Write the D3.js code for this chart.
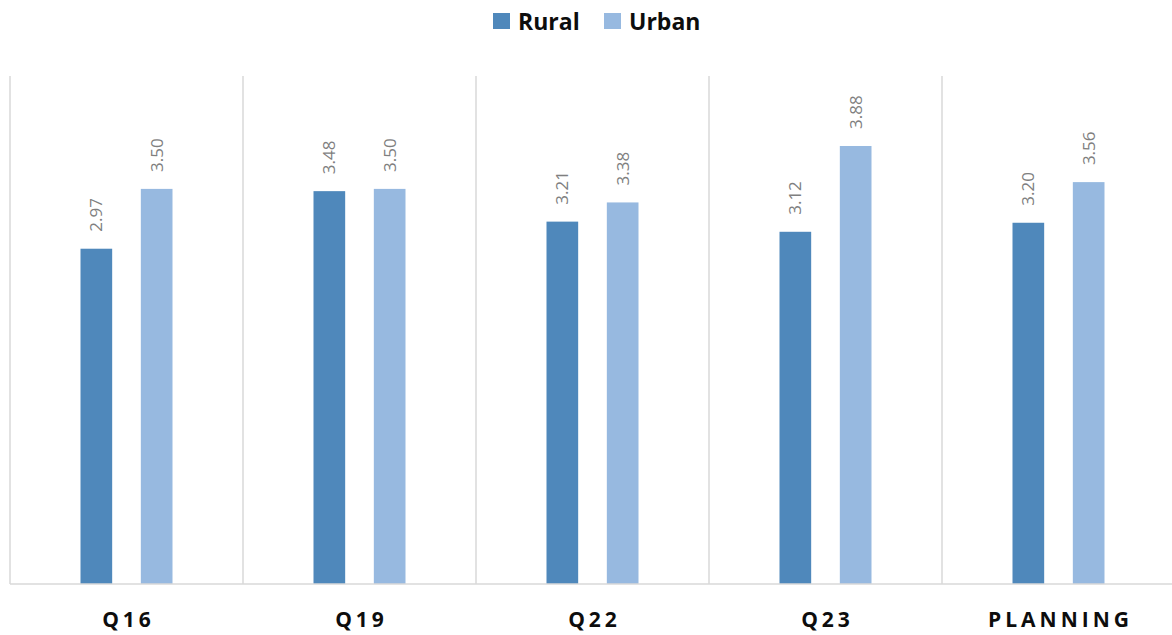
<!DOCTYPE html>
<html><head><meta charset="utf-8">
<script src="https://cdn.jsdelivr.net/npm/d3@7"></script>
<style>body{margin:0;background:#fff}svg{display:block}</style>
</head><body>
<svg id="c" width="1172" height="635"></svg>
<script>
const categories = ["Q16", "Q19", "Q22", "Q23", "PLANNING"];
const seriesNames = ["Rural", "Urban"];
const rural = [2.97, 3.48, 3.21, 3.12, 3.20];
const urban = [3.50, 3.50, 3.38, 3.88, 3.56];
const colors = ["#4f88bb", "#97b9e0"];

const svg = d3.select("#c");
const font = "'Open Sans', sans-serif";
const x0 = d3.scaleBand().domain(categories).range([10, 1175]).padding(0);
const x1 = d3.scaleBand().domain(seriesNames).range([70.5, 162.5]).paddingInner(0.475).paddingOuter(0);
const y = d3.scaleLinear().domain([0, 4.5]).range([584, 76]);

// vertical category separators
svg.append("g").selectAll("line").data(categories.concat(["_end"])).join("line")
  .attr("x1", (d,i)=> 10 + i*x0.step()).attr("x2", (d,i)=> 10 + i*x0.step())
  .attr("y1", y(4.5)).attr("y2", y(0))
  .attr("stroke", "#d9d9d9").attr("stroke-width", 1.5);

const data = categories.map((c,i)=>({cat:c, vals:[{s:"Rural", v:rural[i]},{s:"Urban", v:urban[i]}]}));
const g = svg.append("g").selectAll("g").data(data).join("g")
  .attr("transform", d=>`translate(${x0(d.cat)},0)`);
g.selectAll("rect").data(d=>d.vals).join("rect")
  .attr("x", d=>x1(d.s)).attr("width", x1.bandwidth())
  .attr("y", d=>y(d.v)).attr("height", d=>y(0)-y(d.v))
  .attr("fill", (d,i)=>colors[i]);
g.selectAll("text").data(d=>d.vals).join("text")
  .attr("transform", d=>`translate(${x1(d.s)+x1.bandwidth()/2+6},${y(d.v)-17}) rotate(-90)`)
  .attr("font-family", font).attr("font-size", 17).attr("fill", "#7f7f7f")
  .text(d=>d.v.toFixed(2));

// baseline
svg.append("line").attr("x1", 10).attr("x2", 1175).attr("y1", y(0)).attr("y2", y(0))
  .attr("stroke", "#d9d9d9").attr("stroke-width", 1.5);

// category labels
svg.append("g").selectAll("text").data(categories).join("text")
  .attr("x", d=>x0(d)+x0.bandwidth()/2 + 2).attr("y", 627)
  .attr("text-anchor", "middle").attr("font-family", font).attr("font-weight", "bold")
  .attr("font-size", 21).attr("letter-spacing", 4).attr("fill", "#0d0d0d")
  .text(d=>d);

// legend
const leg = svg.append("g");
const lx = [493, 604];
seriesNames.forEach((s,i)=>{
  leg.append("rect").attr("x", lx[i]).attr("y", 13).attr("width", 17).attr("height", 16).attr("fill", colors[i]);
  leg.append("text").attr("x", lx[i]+25).attr("y", 29.5).attr("font-family", font)
    .attr("font-weight", "bold").attr("font-size", 23).attr("fill", "#0d0d0d").text(s);
});
</script>
</body></html>
